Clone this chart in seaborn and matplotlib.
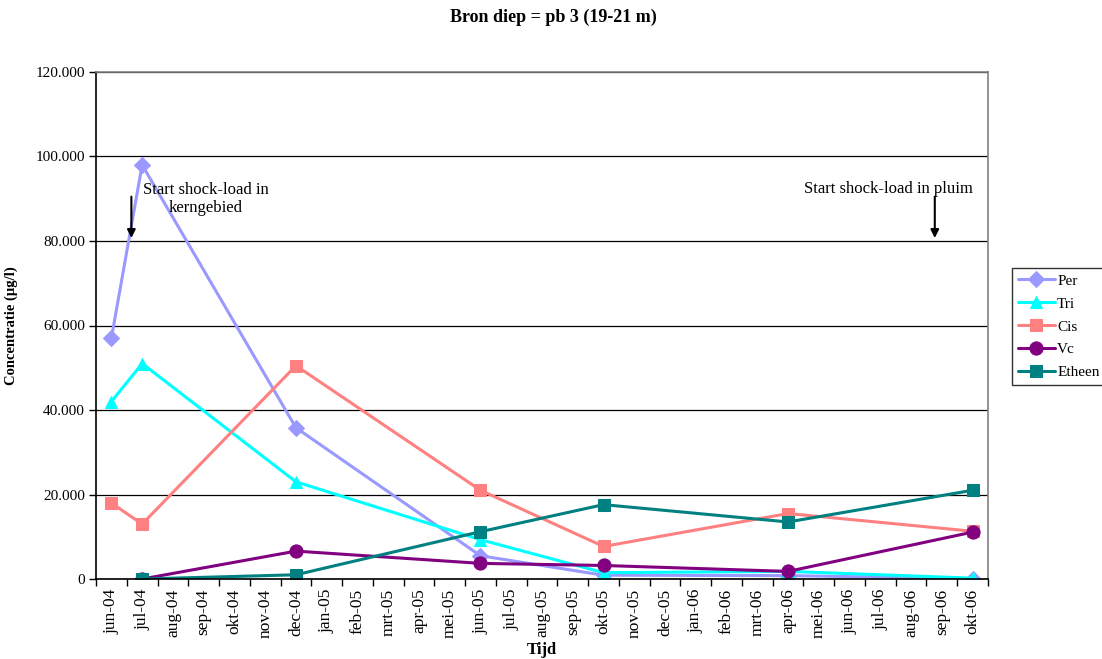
import numpy as np
import pandas as pd
import matplotlib
matplotlib.use("Agg")
import matplotlib.pyplot as plt
from matplotlib.ticker import FuncFormatter, FixedLocator
import seaborn as sns

# Monthly axis categories
months = ["jun-04", "jul-04", "aug-04", "sep-04", "okt-04", "nov-04", "dec-04",
          "jan-05", "feb-05", "mrt-05", "apr-05", "mei-05", "jun-05", "jul-05",
          "aug-05", "sep-05", "okt-05", "nov-05", "dec-05", "jan-06", "feb-06",
          "mrt-06", "apr-06", "mei-06", "jun-06", "jul-06", "aug-06", "sep-06",
          "okt-06"]

# Sampling dates (µg/l)
per_dates = ["jun-04", "jul-04", "dec-04", "jun-05", "okt-05", "apr-06", "okt-06"]
per_vals = [57000, 98000, 35800, 5500, 900, 800, 100]

tri_dates = ["jun-04", "jul-04", "dec-04", "jun-05", "okt-05", "apr-06", "okt-06"]
tri_vals = [42000, 51000, 23000, 9300, 1500, 1800, 200]

cis_dates = ["jun-04", "jul-04", "dec-04", "jun-05", "okt-05", "apr-06", "okt-06"]
cis_vals = [18000, 13000, 50500, 21000, 7700, 15500, 11300]

vc_dates = ["jul-04", "dec-04", "jun-05", "okt-05", "apr-06", "okt-06"]
vc_vals = [0, 6600, 3700, 3200, 1800, 11100]

etheen_dates = ["jul-04", "dec-04", "jun-05", "okt-05", "apr-06", "okt-06"]
etheen_vals = [0, 1000, 11200, 17600, 13500, 21000]

series = [
    ("Per", per_dates, per_vals, "#9999FF", "D", 8),
    ("Tri", tri_dates, tri_vals, "#00FFFF", "^", 9),
    ("Cis", cis_dates, cis_vals, "#FF8080", "s", 9),
    ("Vc", vc_dates, vc_vals, "#800080", "o", 9.5),
    ("Etheen", etheen_dates, etheen_vals, "#008080", "s", 9),
]

sns.set_theme(style="white")
plt.rcParams["font.family"] = ["Liberation Serif", "DejaVu Serif"]

fig = plt.figure(figsize=(11.02, 6.59), dpi=100)
ax = fig.add_axes([96 / 1102, 80 / 659, 892 / 1102, 507 / 659])

pos = {m: i for i, m in enumerate(months)}
for name, dates, vals, color, marker, ms in series:
    df = pd.DataFrame({"x": [pos[d] for d in dates], "y": vals})
    sns.lineplot(data=df, x="x", y="y", ax=ax, color=color, marker=marker,
                 markersize=ms, markeredgecolor=color, linewidth=2.2,
                 label=name, sort=False)

ax.set_xlim(-0.5, len(months) - 0.5)
ax.set_ylim(0, 120000)

# y axis
ax.set_yticks(np.arange(0, 120001, 20000))
ax.yaxis.set_major_formatter(FuncFormatter(lambda v, p: f"{int(v):,}".replace(",", ".")))
ax.grid(axis="y", color="black", linewidth=0.9)
ax.grid(axis="x", visible=False)
ax.tick_params(axis="y", which="major", left=True, length=5, width=1,
               color="black", labelsize=11, pad=3, labelcolor="black")

# x axis: labels at month centres, tick marks between months
ax.set_xticks(range(len(months)))
ax.set_xticklabels(months, rotation=90, fontsize=12.5, color="black")
ax.xaxis.set_minor_locator(FixedLocator(np.arange(-0.5, len(months), 1.0)))
ax.tick_params(axis="x", which="major", bottom=True, length=0, pad=7)
ax.tick_params(axis="x", which="minor", bottom=True, length=5, width=1, color="black")

for side in ["left", "bottom"]:
    ax.spines[side].set_color("black")
    ax.spines[side].set_linewidth(1.2)
for side in ["top", "right"]:
    ax.spines[side].set_color("#808080")
    ax.spines[side].set_linewidth(1.2)

ax.set_xlabel("Tijd", fontsize=12, fontweight="bold", color="black")
ax.xaxis.set_label_coords(0.5, -0.125)
ax.set_ylabel("Concentratie (µg/l)", fontsize=10.5, fontweight="bold", color="black")
ax.yaxis.set_label_coords(-0.087, 0.5)

fig.suptitle("Bron diep = pb 3 (19-21 m)", x=0.502, y=1 - 17 / 659, va="center",
             fontsize=13, fontweight="bold", color="black")

# shock-load annotations
ax.annotate("", xy=(0.65, 80700), xytext=(0.65, 90500),
            arrowprops=dict(arrowstyle="-|>", color="black", lw=1.5,
                            mutation_scale=12, shrinkA=0, shrinkB=0))
ax.text(3.08, 90000, "Start shock-load in\nkerngebied", ha="center", va="center",
        fontsize=12, color="black", linespacing=1.15)

ax.annotate("", xy=(26.77, 80700), xytext=(26.77, 90500),
            arrowprops=dict(arrowstyle="-|>", color="black", lw=1.5,
                            mutation_scale=12, shrinkA=0, shrinkB=0))
ax.text(25.25, 92400, "Start shock-load in pluim", ha="center", va="center",
        fontsize=12, color="black")

leg = ax.legend(loc="upper left", bbox_to_anchor=(1012 / 1102, 1 - 268 / 659),
                bbox_transform=fig.transFigure, fontsize=11, frameon=True,
                fancybox=False, edgecolor="black", handlelength=2.4,
                handletextpad=0.15, borderpad=0.4, borderaxespad=0,
                labelspacing=0.6)
leg.get_frame().set_linewidth(1.0)
for t in leg.get_texts():
    t.set_color("black")

fig.savefig("out.png", dpi=100)
